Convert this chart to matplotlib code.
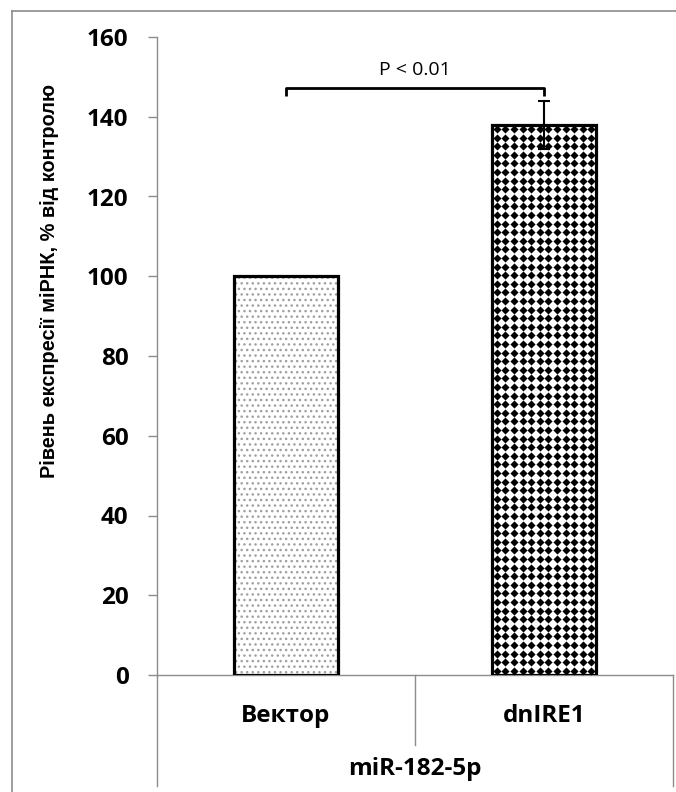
import numpy as np
import matplotlib
matplotlib.use("Agg")
import matplotlib.pyplot as plt
from matplotlib.lines import Line2D

# expression data (% of control)
groups = ["Вектор", "dnIRE1"]
values = [100, 138]
errors = [0, 6]
gene = "miR-182-5p"
ylabel = "Рівень експресії міРНК, % від контролю"
p_text = "P < 0.01"
bracket_y = 147.2
bracket_leg = 2.0
yticks = [0, 20, 40, 60, 80, 100, 120, 140, 160]

GREY = "#8c8c8c"
tick_font = dict(family="Open Sans", weight="bold")

fig = plt.figure(figsize=(6.76, 7.92), dpi=100)
ax = fig.add_axes([157 / 676, 1 - 675 / 792, 516 / 676, 638 / 792])

x = np.arange(len(groups))
width = 0.4

# fill patterns first, outlines on top
ax.bar(x[0], values[0], width, color="white", edgecolor="#a0a0a0",
       linewidth=0, hatch="...", zorder=2)
ax.bar(x[1], values[1], width, color="white", linewidth=0, zorder=2)
bars = ax.bar(x, values, width, facecolor="none", edgecolor="black",
              linewidth=2.3, zorder=4)

# diamond texture for the second bar
b = bars[1]
step = 8.6 / 516 * 2.0  # data units per diamond column
xs = np.arange(b.get_x() + step / 2, b.get_x() + b.get_width(), step)
ystep = 160 / 638 * 8.6
ys = np.arange(ystep / 2, values[1], ystep)
gx, gy = np.meshgrid(xs, ys)
dots = ax.scatter(gx.ravel(), gy.ravel(), marker="D", s=17, color="black",
                  linewidths=0, zorder=3)
dots.set_clip_path(b)

ax.errorbar(x[1], values[1], yerr=errors[1], fmt="none", ecolor="black",
            elinewidth=1.5, capsize=4, capthick=1.5, zorder=5)

# significance bracket
ax.plot([x[0], x[0], x[1], x[1]],
        [bracket_y - bracket_leg, bracket_y, bracket_y, bracket_y - bracket_leg],
        color="black", linewidth=2, solid_capstyle="butt", clip_on=False)
ax.text(0.5, bracket_y + 2.3, p_text, ha="center", va="bottom",
        fontsize=14, family="Open Sans")

ax.set_xlim(-0.5, 1.5)
ax.set_ylim(0, 160)
ax.set_yticks(yticks)
ax.set_yticklabels([str(t) for t in yticks], fontsize=17.5, **tick_font)
ax.tick_params(axis="y", direction="out", length=6.5, width=1, color=GREY, pad=14)
ax.set_xticks([])

for side in ["top", "right"]:
    ax.spines[side].set_visible(False)
for side in ["left", "bottom"]:
    ax.spines[side].set_color(GREY)
    ax.spines[side].set_linewidth(1)

# category table under the axis
trans = ax.get_xaxis_transform()
ax.add_line(Line2D([-0.5, -0.5], [0, -0.174], transform=trans, color=GREY,
                   linewidth=1, clip_on=False))
ax.add_line(Line2D([1.5, 1.5], [0, -0.174], transform=trans, color=GREY,
                   linewidth=1, clip_on=False))
ax.add_line(Line2D([0.5, 0.5], [0, -0.11], transform=trans, color=GREY,
                   linewidth=1, clip_on=False))
for xi, name in zip(x, groups):
    ax.text(xi, -0.064, name, transform=trans, ha="center", va="center",
            fontsize=17.5, **tick_font)
ax.text(0.5, -0.147, gene, transform=trans, ha="center", va="center",
        fontsize=17.5, **tick_font)

ax.set_ylabel(ylabel, fontsize=14.4, family="Liberation Sans", weight="bold",
              labelpad=0)
ax.yaxis.set_label_coords(59 / 676, 1 - 281 / 792, transform=fig.transFigure)

# outer chart frame
fig.add_artist(Line2D([12 / 676, 12 / 676], [-0.01, 1 - 11 / 792],
                      color=GREY, linewidth=1.2))
fig.add_artist(Line2D([12 / 676, 1.01], [1 - 11 / 792, 1 - 11 / 792],
                      color=GREY, linewidth=1.2))

fig.savefig("out.png", dpi=100)
